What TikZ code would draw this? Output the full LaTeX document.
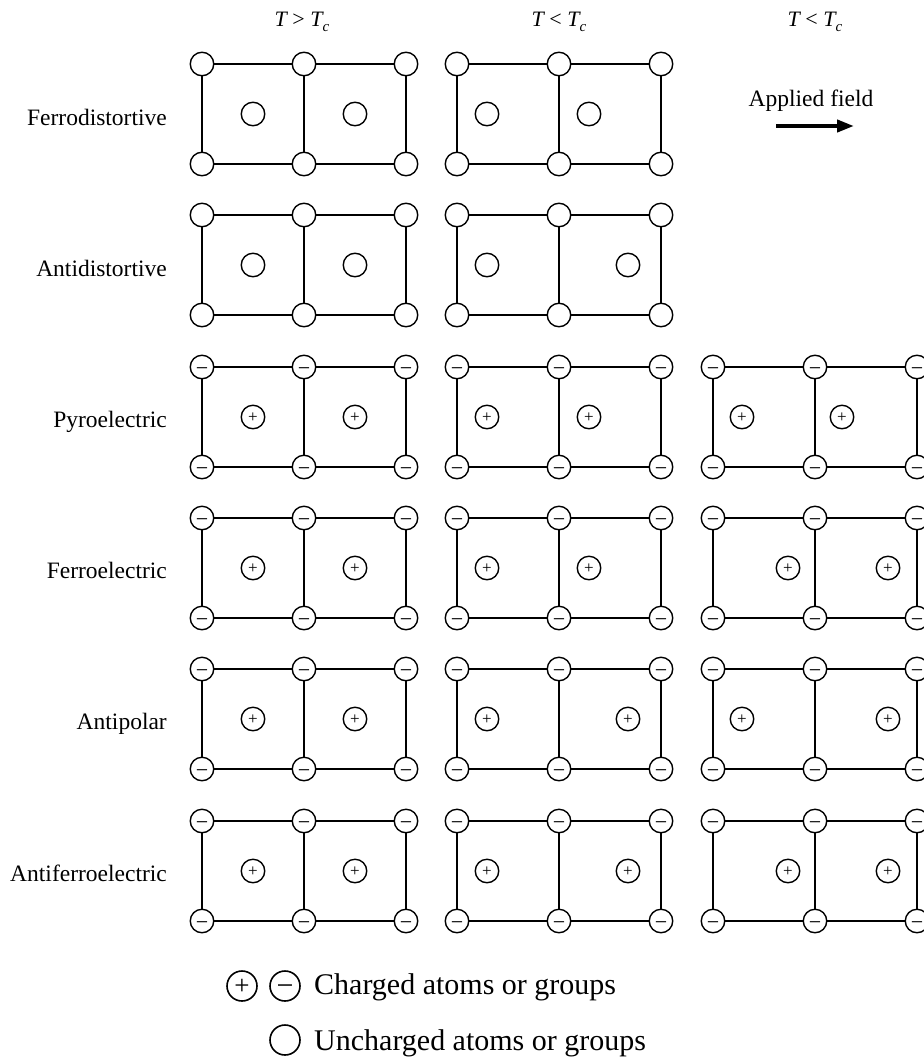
\documentclass[tikz,border=0pt]{standalone}
\usepackage{fontspec}
\setmainfont{Liberation Serif}
\usetikzlibrary{arrows.meta}
\tikzset{
  atom/.style={circle, draw, line width=1.4pt, minimum size=23.5pt, inner sep=0pt, fill=white,
    font=\fontsize{22}{22}\selectfont, text height=11pt, text depth=0pt},
  pluscharge/.style={font=\fontsize{17}{17}\selectfont, text height=8.6pt, text depth=0pt},
  bond/.style={line width=1.6pt},
  rowlabel/.style={anchor=base east, inner sep=0pt, font=\fontsize{23.5}{28}\selectfont},
  header/.style={anchor=base, inner sep=0pt, font=\fontsize{22}{26}\selectfont},
  legendtext/.style={anchor=base west, inner sep=0pt, font=\fontsize{30}{36}\selectfont},
  legatom/.style={circle, draw, line width=1.6pt, minimum size=30pt, inner sep=0pt},
  fieldarrow/.style={line width=4pt, -{Triangle[length=17pt,width=12pt]}},
}
\newcommand\tcsub{\raisebox{-5pt}{\fontsize{15}{15}\selectfont\itshape c}}
\newcommand\negsign{\raisebox{-3pt}{−}}
\newcommand\possign{\raisebox{-0.8pt}{+}}
\begin{document}
\begin{tikzpicture}[x=1pt,y=-1pt]
\useasboundingbox (0,0) rectangle (924,1058);
\fill[white] (0,0) rectangle (924,1058);

% headers
\node[header] (h1) at (302,26) {\itshape T \upshape> \itshape T\tcsub};
\node[header] (h2) at (559,26) {\itshape T \upshape< \itshape T\tcsub};
\node[header] (h3) at (815,26) {\itshape T \upshape< \itshape T\tcsub};

% row labels
\node[rowlabel] (l1) at (167,125) {Ferrodistortive};
\node[rowlabel] (l2) at (167,276) {Antidistortive};
\node[rowlabel] (l3) at (167,427) {Pyroelectric};
\node[rowlabel] (l4) at (167,578) {Ferroelectric};
\node[rowlabel] (l5) at (167,729) {Antipolar};
\node[rowlabel] (l6) at (167,881) {Antiferroelectric};

% applied field
\node[anchor=base, inner sep=0pt, font=\fontsize{23.5}{28}\selectfont] (af) at (811,106) {Applied field};
\coordinate (afa) at (776,126);
\coordinate (afb) at (854,126);
\draw[fieldarrow] (afa) -- (afb);

% lattices
\foreach \rw/\xa/\yt/\ch/\oa/\ob in {
  1/202/64/0/51/51, 1/457/64/0/30/30,
  2/202/215/0/51/51, 2/457/215/0/30/69,
  3/202/367/1/51/51, 3/457/367/1/30/30, 3/713/367/1/29/27,
  4/202/518/1/51/51, 4/457/518/1/30/30, 4/713/518/1/75/73,
  5/202/669/1/51/51, 5/457/669/1/30/69, 5/713/669/1/29/73,
  6/202/821/1/51/51, 6/457/821/1/30/69, 6/713/821/1/75/73}{
  \pgfmathsetmacro\yb{\yt+100}
  \pgfmathsetmacro\ym{\yt+50}
  \foreach \ci in {0,1,2}{
    \node[atom] (n-\rw-\xa-\ci-t) at ({\xa+102*\ci},\yt) {\ifnum\ch=1 \negsign\fi};
    \node[atom] (n-\rw-\xa-\ci-b) at ({\xa+102*\ci},\yb) {\ifnum\ch=1 \negsign\fi};
  }
  \node[atom,pluscharge] (c-\rw-\xa-1) at ({\xa+\oa},\ym) {\ifnum\ch=1 \possign\fi};
  \node[atom,pluscharge] (c-\rw-\xa-2) at ({\xa+102+\ob},\ym) {\ifnum\ch=1 \possign\fi};
  \draw[bond] (n-\rw-\xa-0-t) -- (n-\rw-\xa-1-t);
  \draw[bond] (n-\rw-\xa-1-t) -- (n-\rw-\xa-2-t);
  \draw[bond] (n-\rw-\xa-0-b) -- (n-\rw-\xa-1-b);
  \draw[bond] (n-\rw-\xa-1-b) -- (n-\rw-\xa-2-b);
  \draw[bond] (n-\rw-\xa-0-t) -- (n-\rw-\xa-0-b);
  \draw[bond] (n-\rw-\xa-1-t) -- (n-\rw-\xa-1-b);
  \draw[bond] (n-\rw-\xa-2-t) -- (n-\rw-\xa-2-b);
}

% legend
\node[legatom, font=\fontsize{27}{27}\selectfont, text height=13.6pt, text depth=0pt] (lp) at (242,986) {\raisebox{-2pt}{+}};
\node[legatom, font=\fontsize{30}{30}\selectfont, text height=15pt, text depth=0pt] (lm) at (285,986) {\raisebox{-2pt}{−}};
\node[legatom] (lu) at (285,1040) {};
\node[legendtext] (lt1) at (314,994) {Charged atoms or groups};
\node[legendtext] (lt2) at (314,1050) {Uncharged atoms or groups};
\end{tikzpicture}
\end{document}
